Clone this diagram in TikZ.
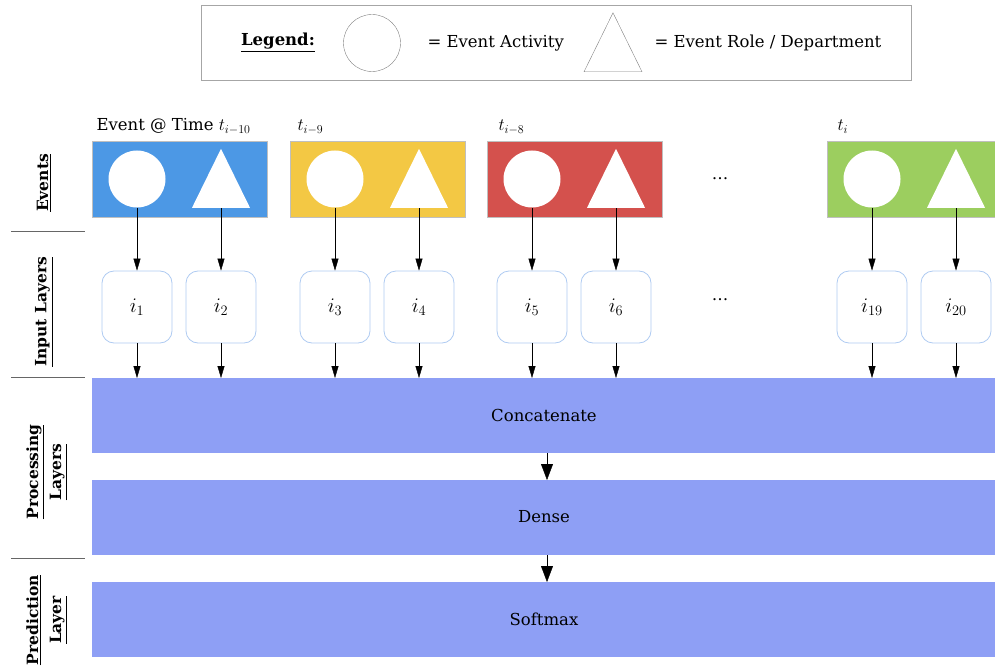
\documentclass[tikz,border=0pt]{standalone}
\usepackage{fontspec,amsmath}
\setmainfont{DejaVu Serif}
\usetikzlibrary{shapes.geometric, arrows, arrows.meta}
\definecolor{evblue}{HTML}{4C98E5}
\definecolor{evyellow}{HTML}{F3C844}
\definecolor{evred}{HTML}{D4514D}
\definecolor{evgreen}{HTML}{9CCE5F}
\definecolor{layerblue}{HTML}{8E9FF5}
\definecolor{inputedge}{HTML}{AFCBF2}
\newcommand{\tmath}[1]{{\fontsize{17.28}{20}\selectfont$#1$}}
\tikzstyle{evbox}=[rectangle,minimum width=175pt,minimum height=76pt,inner sep=0,draw=black!25,anchor=west]
\tikzstyle{act}=[shape=circle,minimum size=57pt,inner sep=0,fill=white]
\tikzstyle{role}=[isosceles triangle,shape border rotate=90,isosceles triangle stretches,minimum width=58pt,minimum height=59pt,inner sep=0,fill=white]
\tikzstyle{inp}=[rectangle,rounded corners=12pt,minimum width=70pt,minimum height=72pt,draw=inputedge,line width=0.8pt,fill=white,font=\fontsize{20.74}{24}\selectfont]
\tikzstyle{layer}=[rectangle,minimum width=903pt,minimum height=75pt,inner sep=0,fill=layerblue,anchor=north west]
\tikzstyle{side}=[rotate=90,font=\fontsize{15.5}{23}\selectfont\bfseries,align=center]
\tikzstyle{arrow} = [-{Triangle[length=12pt,width=7pt]}]
\tikzstyle{bigarrow} = [-{Triangle[length=16pt,width=12pt]}]

\begin{document}
\begin{tikzpicture}[x=1pt,y=-1pt,font=\fontsize{16.5}{20}\selectfont]
\clip (0,0) rectangle (995,671);

% legend
\node[draw=black!35,minimum width=710pt,minimum height=75pt,anchor=north west] (legend) at (201,5) {};
\node[font=\fontsize{16.5}{20}\selectfont\bfseries] (legtitle) at (278,43) {\underline{Legend:}};
\node[act,draw=black!50,fill=none] (legact) at (372,43) {};
\node[anchor=west] (legacttext) at (424,43) {= Event Activity};
\node[role,draw=black!50,fill=none,anchor=lower side] (legrole) at (613,72) {};
\node[anchor=west] (legroletext) at (651,43) {= Event Role / Department};

% side labels
\node[side] (sevents) at (44,183) {\underline{Events}};
\node[side] (sinput) at (44,312) {\underline{Input Layers}};
\node[side] (sproc) at (47,472) {\underline{Processing}\\\underline{Layers}};
\node[side] (spred) at (47,620) {\underline{Prediction}\\\underline{Layer}};
\foreach \y in {231,377,558}
	\draw[black!60] (11,\y) -- (85,\y);

% layers
\node[layer] (concat) at (92,378) {};
\node (concattext) at (544,415) {Concatenate};
\node[layer] (dense) at (92,480) {};
\node (densetext) at (544,517) {Dense};
\node[layer] (softmax) at (92,582) {};
\node (softmaxtext) at (544,619) {Softmax};
\draw[bigarrow] (concat.south -| 547,0) -- (dense.north -| 547,0);
\draw[bigarrow] (dense.south -| 547,0) -- (softmax.north -| 547,0);

% events and inputs
\foreach \x/\c/\a/\b in {92/evblue/1/2,290/evyellow/3/4,487/evred/5/6,827/evgreen/19/20}{
	\node[evbox,fill=\c] (ev\a) at (\x,179) {};
	\node[act] (act\a) at (\x+45,179) {};
	\node[role,anchor=lower side] (role\a) at (\x+129,208) {};
	\node[inp] (in\a) at (\x+45,307) {$i_{\a}$};
	\node[inp] (in\b) at (\x+129,307) {$i_{\b}$};
	\draw[arrow] (act\a.south) -- (in\a);
	\draw[arrow] (role\a.lower side) -- (in\b);
	\draw[arrow] (in\a) -- (in\a |- concat.north);
	\draw[arrow] (in\b) -- (in\b |- concat.north);
}

\node[anchor=base west] (tlab1) at (93,131) {Event @ Time \tmath{t_{i-10}}};
\node[anchor=base west] (tlab3) at (294,131) {\tmath{t_{i-9}}};
\node[anchor=base west] (tlab5) at (495,131) {\tmath{t_{i-8}}};
\node[anchor=base west] (tlab19) at (834,131) {\tmath{t_i}};
\node (dots1) at (720,179) {\dots};
\node (dots2) at (720,300) {\dots};
\end{tikzpicture}
\end{document}
